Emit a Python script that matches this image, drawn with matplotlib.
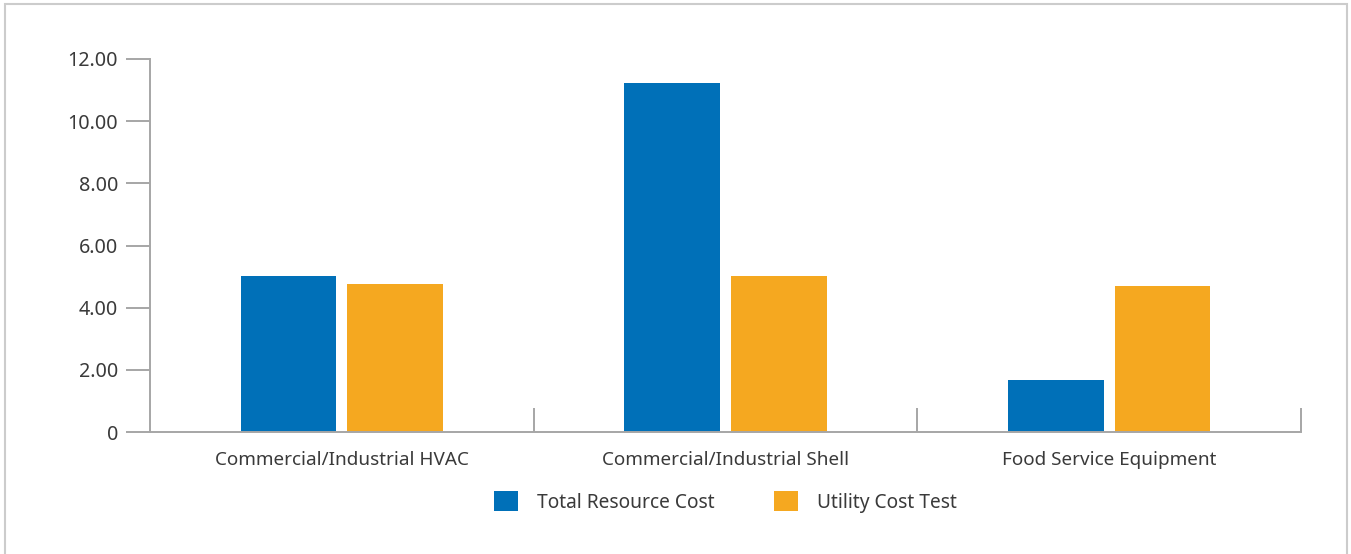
import matplotlib.pyplot as plt
import matplotlib.patches as mpatches
import numpy as np

categories = ['Commercial/Industrial HVAC', 'Commercial/Industrial Shell', 'Food Service Equipment']
total_resource_cost = [5.02, 11.23, 1.67]
utility_cost_test = [4.76, 5.02, 4.70]
y_ticks = [0, 2, 4, 6, 8, 10, 12]
y_labels = ['0', '2.00', '4.00', '6.00', '8.00', '10.00', '12.00']

BLUE = '#0070b8'
ORANGE = '#f5a820'
AXIS = '#a6a6a6'
TEXT = '#3a3a3a'

plt.rcParams['font.family'] = ['Noto Sans', 'DejaVu Sans']

fig = plt.figure(figsize=(13.51, 5.54), dpi=100)
ax = fig.add_axes([150 / 1351, 122 / 554, 1151 / 1351, 373 / 554])

x = np.arange(len(categories))
w = 0.25
gap = 0.028
ax.bar(x - (w + gap) / 2, total_resource_cost, w, color=BLUE, label='Total Resource Cost')
ax.bar(x + (w + gap) / 2, utility_cost_test, w, color=ORANGE, label='Utility Cost Test')

ax.set_xlim(-0.5, len(categories) - 0.5)
ax.set_ylim(0, 12)
ax.set_yticks(y_ticks)
ax.set_yticklabels(y_labels)
ax.set_xticks(x)
ax.set_xticklabels(categories)
ax.set_xticks(list(x + 0.5), minor=True)

for side in ('top', 'right'):
    ax.spines[side].set_visible(False)
for side in ('left', 'bottom'):
    ax.spines[side].set_color(AXIS)
    ax.spines[side].set_linewidth(1.4)

ax.tick_params(axis='y', colors=AXIS, labelcolor=TEXT, labelsize=14.2, length=17, width=1.4, pad=6)
ax.tick_params(axis='x', which='major', length=0, labelcolor=TEXT, labelsize=13.6, pad=14)
ax.tick_params(axis='x', which='minor', direction='in', length=17, width=1.4, colors=AXIS)

leg = fig.legend(loc='center', bbox_to_anchor=(725.5 / 1351, 1 - 502 / 554), ncol=2, frameon=False,
                 fontsize=13.8, handlelength=1.25, handleheight=1.25, handletextpad=1.0,
                 columnspacing=3.1, labelcolor=TEXT)

# light frame around the whole chart
fig.patches.append(mpatches.Rectangle((4.5 / 1351, -0.1), 1342.5 / 1351, 1.1 - 4.5 / 554,
                                      transform=fig.transFigure, fill=False,
                                      edgecolor='#cccccc', linewidth=1.5))

fig.savefig('out.png', dpi=100)
